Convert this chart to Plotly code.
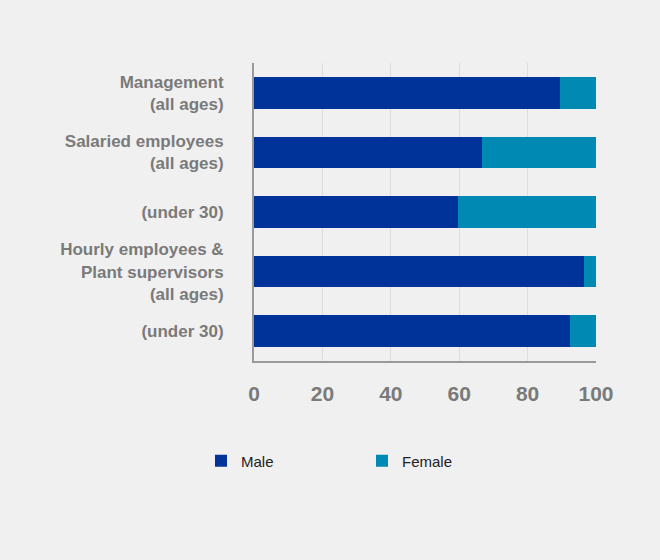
import plotly.graph_objects as go

categories = ["mgmt_all", "sal_all", "sal_u30", "hourly_all", "hourly_u30"]
category_labels = [
    "Management<br>(all ages)",
    "Salaried employees<br>(all ages)",
    "(under 30)",
    "Hourly employees &<br>Plant supervisors<br>(all ages)",
    "(under 30)",
]
male = [89.5, 66.8, 59.6, 96.5, 92.4]
female = [round(100 - m, 1) for m in male]
x_ticks = [0, 20, 40, 60, 80, 100]

MALE_COLOR = "#003399"
FEMALE_COLOR = "#0089B3"
GRAY = "#7a7a7a"
FONT = "Liberation Sans, Arial, sans-serif"

fig = go.Figure()
fig.add_trace(go.Bar(y=categories, x=male, name="Male", orientation="h",
                     marker=dict(color=MALE_COLOR, line=dict(width=0))))
fig.add_trace(go.Bar(y=categories, x=female, name="Female", orientation="h",
                     marker=dict(color=FEMALE_COLOR, line=dict(width=0))))

fig.update_layout(
    width=660, height=560,
    barmode="stack",
    bargap=0.47,
    paper_bgcolor="#f0f0f0",
    plot_bgcolor="#f0f0f0",
    margin=dict(l=254, r=64, t=63, b=199),
    font=dict(family=FONT, color=GRAY),
    showlegend=True,
    legend=dict(
        orientation="h",
        x=-0.155, xanchor="left",
        y=-0.28, yanchor="top",
        entrywidth=116, entrywidthmode="pixels",
        font=dict(family=FONT, size=15, color="#222222"),
        bgcolor="rgba(0,0,0,0)",
        traceorder="normal",
    ),
)
fig.update_xaxes(
    range=[0, 100],
    tickvals=x_ticks,
    ticktext=[str(v) for v in x_ticks],
    tickfont=dict(family=FONT, size=21, color=GRAY, weight="bold"),
    showgrid=True, gridcolor="#dddddd", gridwidth=1,
    showline=True, linecolor="#9a9a9a", linewidth=2,
    zeroline=False,
    ticks="", ticklabelstandoff=13,
    fixedrange=True,
)
fig.update_yaxes(
    categoryorder="array",
    categoryarray=categories[::-1],
    tickvals=categories,
    ticktext=category_labels,
    tickfont=dict(family=FONT, size=17, color=GRAY, weight="bold"),
    showline=True, linecolor="#9a9a9a", linewidth=2,
    showgrid=False,
    ticks="", ticklabelstandoff=25,
    fixedrange=True,
)

fig.write_html(
    "out.html",
    config={"displayModeBar": False},
    post_script="document.body.style.margin='0';document.body.style.background='#f0f0f0';",
)
